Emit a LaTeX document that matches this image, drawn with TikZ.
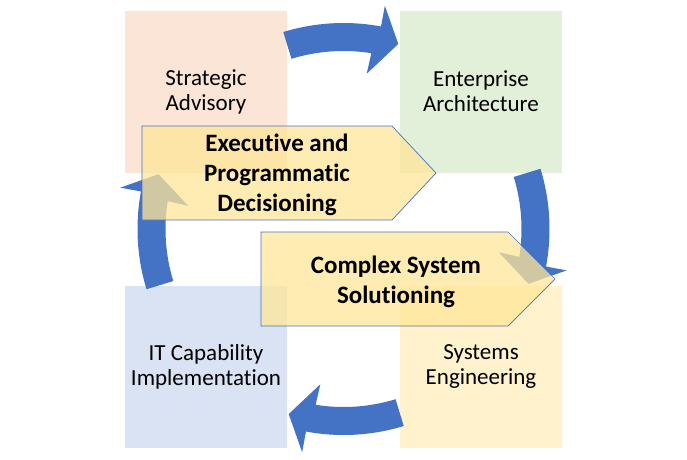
\documentclass[tikz,border=0pt]{standalone}
\usepackage{fontspec}
\setmainfont[Ligatures=NoCommon]{Carlito}
\usetikzlibrary{positioning}
\definecolor{cycleBlue}{HTML}{4472C4}
\definecolor{advisoryFill}{HTML}{FBE5D6}
\definecolor{architectureFill}{HTML}{E2F0D9}
\definecolor{implementFill}{HTML}{DAE3F3}
\definecolor{engineeringFill}{HTML}{FFF2CC}
\definecolor{pentFill}{HTML}{FFE699}
\newcommand{\boxSide}{162pt}
\newcommand{\ringInner}{178}
\newcommand{\ringOuter}{206}
\newcommand{\headInner}{157}
\newcommand{\headOuter}{227}

\begin{document}
\begin{tikzpicture}[x=1pt, y=1pt,
    quad/.style={minimum width=\boxSide, minimum height=\boxSide, inner sep=0pt, align=center,
      font=\fontsize{23}{25}\selectfont},
    ringarrow/.style={fill=cycleBlue},
    pent/.style={fill=pentFill, fill opacity=0.75, draw=cycleBlue, line width=0.7pt, line join=miter},
    pentlabel/.style={align=center, font=\bfseries\fontsize{25}{30}\selectfont}]
\useasboundingbox (0,0) rectangle (687,-459);

% four quadrants
\node (advisory) [quad, fill=advisoryFill] at (206,-91.5) {Strategic\\Advisory};
\node (architecture) [quad, fill=architectureFill] at (481,-91.5) {Enterprise\\Architecture};
\node (implement) [quad, fill=implementFill] at (206,-367) {IT Capability\\Implementation};
\node (engineering) [quad, fill=engineeringFill] at (481,-367) {Systems\\Engineering};

% clockwise ring of arrows
\coordinate (hub) at (343.5,-229);
\foreach \turn in {0,-90,-180,-270}{
  \begin{scope}[shift={(hub)}, rotate=\turn]
    \fill[ringarrow] (107:\ringOuter) arc[start angle=107, end angle=79.5, radius=\ringOuter]
      -- (79.5:\headOuter) -- (73.5:193) -- (81.5:\headInner)
      -- (81:\ringInner) arc[start angle=81, end angle=107, radius=\ringInner] -- cycle;
  \end{scope}
}

% overlay pentagons
\draw[pent] (142,-126) -- (392,-126) -- (436,-173) -- (392,-220) -- (142,-220) -- cycle;
\node (decisioning) [pentlabel] at (277,-175) {Executive and\\Programmatic\\Decisioning};

\draw[pent] (261,-232) -- (508,-232) -- (555,-279) -- (508,-326) -- (261,-326) -- cycle;
\node (solutioning) [pentlabel] at (396,-282) {Complex System\\Solutioning};
\end{tikzpicture}
\end{document}
